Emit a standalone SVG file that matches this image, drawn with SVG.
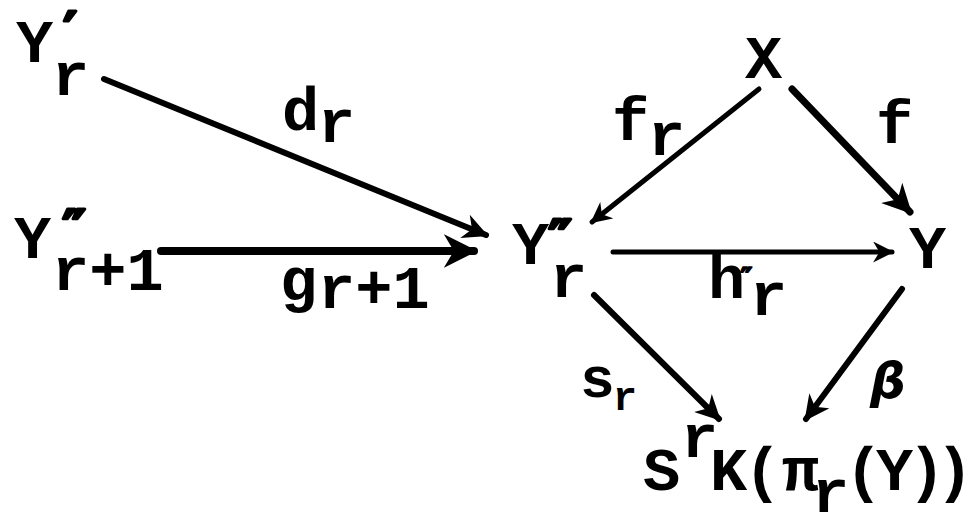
<svg xmlns="http://www.w3.org/2000/svg" width="976" height="516" viewBox="0 0 976 516">
<style>
.t{font-family:"Liberation Mono","DejaVu Sans Mono",monospace;font-weight:bold;fill:#000;font-size:62px}
.m{font-size:58px}
.s{font-size:40px}
.p{font-family:"DejaVu Sans","Liberation Sans",sans-serif;font-weight:bold;fill:#000;stroke:#000;stroke-width:3;stroke-linejoin:round;font-size:54px}
.c{stroke:#000;fill:none;stroke-linecap:round}
</style>
<defs>
<marker id="ah" viewBox="0 0 10 10" refX="9" refY="5" markerWidth="4.2" markerHeight="4.2" markerUnits="strokeWidth" orient="auto">
<path d="M0,0 L10,5 L0,10 L3,5 z" fill="#000"/>
</marker>
</defs>
<rect width="976" height="516" fill="#fff"/>
<g id="connectors">
<line class="c" x1="104" y1="79" x2="486" y2="235" stroke-width="6" marker-end="url(#ah)"/>
<line class="c" x1="161" y1="251" x2="474" y2="251" stroke-width="8" marker-end="url(#ah)"/>
<line class="c" x1="759" y1="89" x2="592" y2="222" stroke-width="5" marker-end="url(#ah)"/>
<line class="c" x1="792" y1="89" x2="910" y2="212" stroke-width="7" marker-end="url(#ah)"/>
<line class="c" x1="613" y1="252" x2="892" y2="252" stroke-width="5" marker-end="url(#ah)"/>
<line class="c" x1="594" y1="295" x2="719" y2="419" stroke-width="6" marker-end="url(#ah)"/>
<line class="c" x1="902" y1="289" x2="806" y2="419" stroke-width="6" marker-end="url(#ah)"/>
</g>
<g id="Yp_r">
<text class="t" x="16" y="62">Y</text>
<text class="p" x="63" y="50">′</text>
<text class="t" x="52" y="95">r</text>
</g>
<g id="Ypp_r1">
<text class="t" x="14" y="258">Y</text>
<text class="p" x="62" y="248">″</text>
<text class="t" x="52" y="290">r+1</text>
</g>
<g id="Ypp_r">
<text class="t" x="512" y="264">Y</text>
<text class="p" x="548" y="258">″</text>
<text class="t" x="550" y="297">r</text>
</g>
<g id="X">
<text class="t" x="745" y="78">X</text>
</g>
<g id="Y">
<text class="t" x="909" y="268">Y</text>
</g>
<g id="SK">
<text class="t" x="643" y="490">S</text>
<text class="t" x="681" y="457">r</text>
<text class="t" x="710" y="490">K</text>
<text class="t" x="744" y="490">(</text>
<text class="t" x="782" y="490">π</text>
<text class="t" x="812" y="512">r</text>
<text class="t" x="845" y="490">(</text>
<text class="t" x="876" y="490">Y</text>
<text class="t" x="908" y="490">)</text>
<text class="t" x="936" y="490">)</text>
</g>
<g id="labels">
<text class="t" x="282" y="130">d</text>
<text class="t" x="318" y="142">r</text>
<text class="t" x="280" y="300">g</text>
<text class="t" x="318" y="308">r+1</text>
<text class="t" x="612" y="140">f</text>
<text class="t" x="648" y="155">r</text>
<text class="t" x="876" y="143">f</text>
<text class="t" x="708" y="298">h</text>
<text class="p" x="740" y="288" style="font-size:28px;stroke-width:1.5">″</text>
<text class="t" x="750" y="315">r</text>
<text class="t m" x="580" y="397">s</text>
<text class="t s" x="613" y="410">r</text>
<text class="p" x="870" y="398" style="font-style:italic;font-size:50px;stroke-width:0">β</text>
</g>
</svg>
